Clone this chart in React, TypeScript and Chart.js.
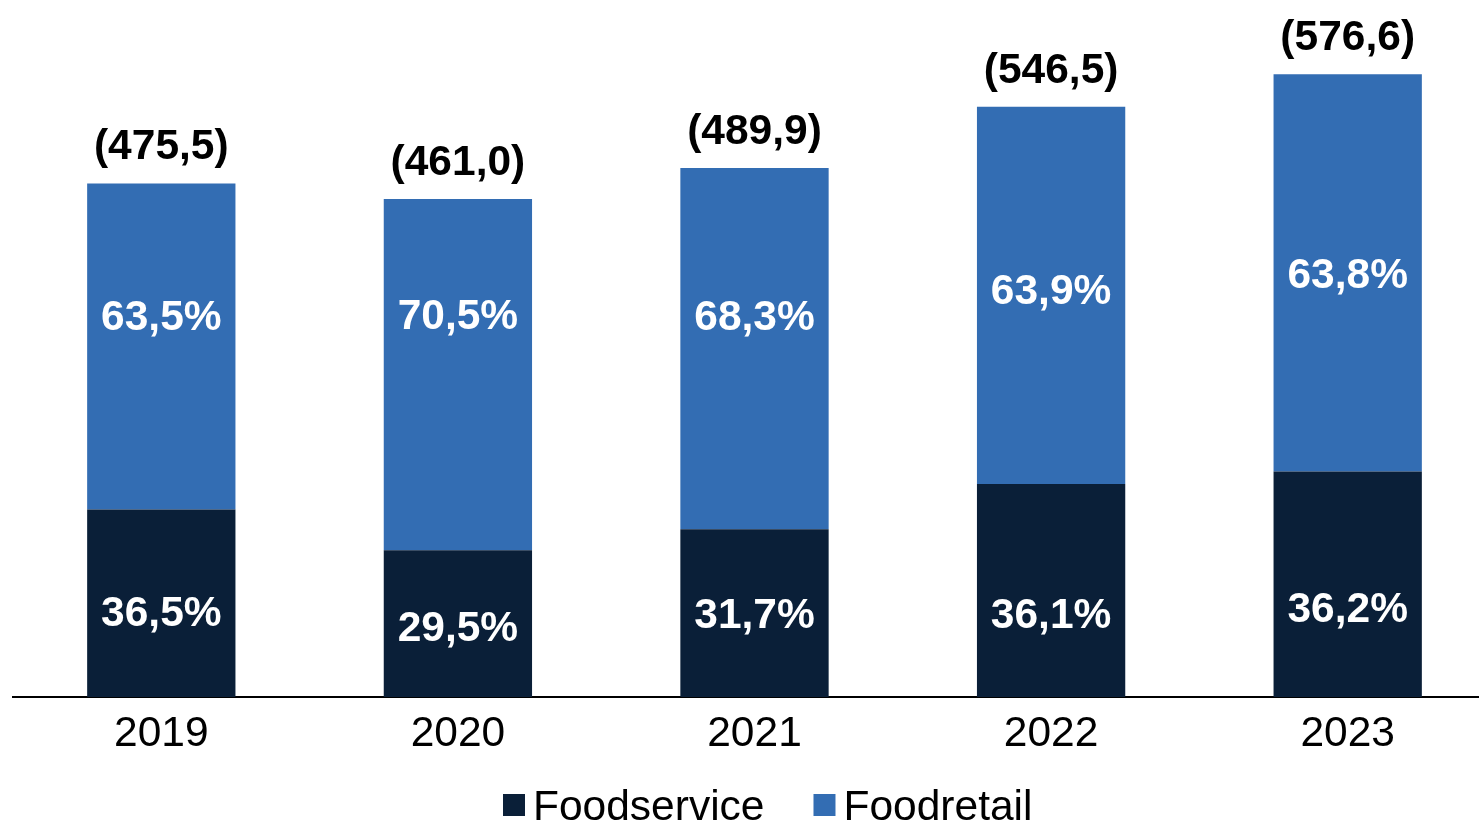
import React, { useEffect, useRef } from 'react';
import { Chart, registerables } from 'chart.js';

Chart.register(...registerables);

// ---- Data ----
const years: string[] = ['2019', '2020', '2021', '2022', '2023'];
const totals: number[] = [475.5, 461.0, 489.9, 546.5, 576.6];
const foodservicePct: number[] = [36.5, 29.5, 31.7, 36.1, 36.2];
const foodretailPct: number[] = [63.5, 70.5, 68.3, 63.9, 63.8];
const seriesNames: string[] = ['Foodservice', 'Foodretail'];

// ---- Style ----
const FONT = '"Liberation Sans", Arial, Helvetica, sans-serif';
const DARK = '#0a1f38';
const BLUE = '#336db3';
// label nudges (px) relative to segment middles, as placed in the original
const serviceLabelShift = [8, 2, 0, 23, 23];
const retailLabelShift = [-32, -61, -34, -6, 0];

const fmt = (v: number) => v.toFixed(1).replace('.', ',');

export default function App() {
  const ref = useRef<HTMLCanvasElement | null>(null);

  useEffect(() => {
    const canvas = ref.current;
    if (!canvas) return;

    const serviceValues = totals.map((t, i) => (t * foodservicePct[i]) / 100);
    const retailValues = totals.map((t, i) => (t * foodretailPct[i]) / 100);

    const labelsPlugin = {
      id: 'barLabels',
      afterDatasetsDraw(chart: any) {
        const ctx = chart.ctx;
        const yScale = chart.scales.y;
        ctx.save();
        ctx.textAlign = 'center';
        ctx.textBaseline = 'alphabetic';
        ctx.font = `bold 42.5px ${FONT}`;
        const pctSets = [foodservicePct, foodretailPct];
        const shifts = [serviceLabelShift, retailLabelShift];
        chart.data.datasets.forEach((_ds: any, di: number) => {
          const meta = chart.getDatasetMeta(di);
          meta.data.forEach((bar: any, i: number) => {
            const p = bar.getProps(['x', 'y', 'base'], true);
            const mid = (p.y + p.base) / 2 + shifts[di][i];
            ctx.fillStyle = '#ffffff';
            ctx.fillText(fmt(pctSets[di][i]) + '%', p.x, mid + 15);
          });
        });
        const meta0 = chart.getDatasetMeta(0);
        totals.forEach((t, i) => {
          const x = meta0.data[i].x;
          const top = yScale.getPixelForValue(t);
          ctx.fillStyle = '#000000';
          ctx.fillText(`(${fmt(t)})`, x, top - 24);
        });
        ctx.restore();
      },
    };

    const legendPlugin = {
      id: 'customLegend',
      afterDraw(chart: any) {
        const ctx = chart.ctx;
        ctx.save();
        ctx.font = `42.5px ${FONT}`;
        ctx.textAlign = 'left';
        ctx.textBaseline = 'alphabetic';
        let x = 503;
        const box = 22;
        const baseline = 820;
        chart.data.datasets.forEach((ds: any) => {
          ctx.fillStyle = ds.backgroundColor;
          ctx.fillRect(x, baseline - 26, box, box);
          ctx.fillStyle = '#000000';
          const tx = x + box + 8;
          ctx.fillText(ds.label, tx, baseline);
          x = tx + ctx.measureText(ds.label).width + 49;
        });
        ctx.restore();
      },
    };

    const chart = new Chart(canvas, {
      type: 'bar',
      data: {
        labels: years,
        datasets: [
          {
            label: seriesNames[0],
            data: serviceValues,
            backgroundColor: DARK,
            borderWidth: 0,
            barPercentage: 0.5,
            categoryPercentage: 1,
          },
          {
            label: seriesNames[1],
            data: retailValues,
            backgroundColor: BLUE,
            borderWidth: 0,
            barPercentage: 0.5,
            categoryPercentage: 1,
          },
        ],
      },
      options: {
        animation: false,
        responsive: false,
        maintainAspectRatio: false,
        layout: { padding: { top: 49, left: 13, right: 0, bottom: 49 } },
        plugins: {
          legend: { display: false },
          tooltip: { enabled: false },
        },
        scales: {
          x: {
            stacked: true,
            z: 1,
            grid: { display: false, drawTicks: false },
            border: { display: true, color: '#000000', width: 2 },
            ticks: {
              color: '#000000',
              padding: 12,
              font: { family: FONT, size: 42.5 },
            },
          },
          y: {
            stacked: true,
            display: false,
            min: 0,
            max: 600,
          },
        },
      },
      plugins: [labelsPlugin, legendPlugin],
    });

    return () => chart.destroy();
  }, []);

  return (
    <div
      style={{
        position: 'fixed',
        left: 0,
        top: 0,
        width: 1479,
        height: 821,
        overflow: 'hidden',
        background: '#ffffff',
      }}
    >
      <canvas ref={ref} width={1496} height={821} style={{ display: 'block', width: 1496, height: 821 }} />
    </div>
  );
}
